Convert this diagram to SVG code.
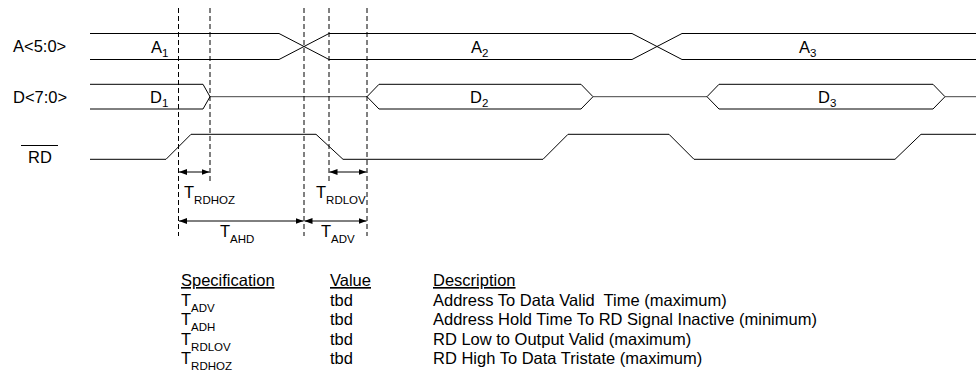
<svg xmlns="http://www.w3.org/2000/svg" width="976" height="375" viewBox="0 0 976 375">
<style>
text{font-family:"Liberation Sans",Arial,sans-serif;font-size:16.5px;fill:#000}
.sub{font-size:11.5px}
.wave{fill:none;stroke:#000;stroke-width:1}
.mid{fill:none;stroke:#444;stroke-width:1}
.dash{fill:none;stroke:#000;stroke-width:1;stroke-dasharray:5,3}
.dim{fill:none;stroke:#000;stroke-width:1;marker-start:url(#ah);marker-end:url(#ah)}
.u{text-decoration:underline}
</style>
<defs>
<marker id="ah" viewBox="0 0 8 6" refX="8" refY="3" markerWidth="8" markerHeight="6" markerUnits="userSpaceOnUse" orient="auto-start-reverse">
<path d="M0,0 L8,3 L0,6 Z" fill="#000"/>
</marker>
</defs>
<rect width="976" height="375" fill="#fff"/>

<g id="sig-A">
<text x="13" y="52">A&lt;5:0&gt;</text>
<path class="wave" d="M90,33.5 H279 L329,59.5 H632 L682,33.5 H976"/>
<path class="wave" d="M90,59.5 H279 L329,33.5 H632 L682,59.5 H976"/>
<text x="151" y="53">A<tspan class="sub" dy="4">1</tspan></text>
<text x="471" y="53">A<tspan class="sub" dy="4">2</tspan></text>
<text x="799" y="53">A<tspan class="sub" dy="4">3</tspan></text>
</g>

<g id="sig-D">
<text x="13" y="103">D&lt;7:0&gt;</text>
<path class="wave" d="M90,84.3 H203 L210,96.7 L203,109 H90"/>
<path class="mid" d="M210,96.7 H367"/>
<path class="wave" d="M367,96.7 L379,84.3 H581 L593,96.7 L581,109 H379 Z"/>
<path class="mid" d="M593,96.7 H707"/>
<path class="wave" d="M707,96.7 L719,84.3 H933 L945,96.7 L933,109 H719 Z"/>
<path class="mid" d="M945,96.7 H976"/>
<text x="150" y="103">D<tspan class="sub" dy="4">1</tspan></text>
<text x="470" y="103">D<tspan class="sub" dy="4">2</tspan></text>
<text x="818" y="103">D<tspan class="sub" dy="4">3</tspan></text>
</g>

<g id="sig-RD">
<text x="28" y="162.5">RD</text>
<line x1="21" y1="145.5" x2="58" y2="145.5" stroke="#000" stroke-width="1"/>
<path class="wave" d="M90,159.3 H166 L191,134.3 H316 L343,159.3 H543 L568,134.3 H669 L694,159.3 H895 L921,134.3 H976"/>
</g>

<g id="connectors">
<line class="dash" x1="178.5" y1="8" x2="178.5" y2="236"/>
<line class="dash" x1="210" y1="8" x2="210" y2="184"/>
<line class="dash" x1="304" y1="8" x2="304" y2="236"/>
<line class="dash" x1="329" y1="8" x2="329" y2="184"/>
<line class="dash" x1="367" y1="8" x2="367" y2="236"/>
<line class="dim" x1="179" y1="172" x2="209.5" y2="172"/>
<line class="dim" x1="329.5" y1="172" x2="366.5" y2="172"/>
<line class="dim" x1="179" y1="221" x2="303.5" y2="221"/>
<line class="dim" x1="304.5" y1="221" x2="366.5" y2="221"/>
</g>

<g id="timing-labels">
<text x="184" y="198">T<tspan class="sub" dy="6">RDHOZ</tspan></text>
<text x="316" y="198">T<tspan class="sub" dy="6">RDLOV</tspan></text>
<text x="220" y="237">T<tspan class="sub" dy="6">AHD</tspan></text>
<text x="321" y="237">T<tspan class="sub" dy="6">ADV</tspan></text>
</g>

<g id="spec-table" style="white-space:pre">
<text x="181" y="286" class="u">Specification</text>
<text x="330" y="286" class="u">Value</text>
<text x="433" y="286" class="u">Description</text>
<text x="181" y="305.5">T<tspan class="sub" dy="6">ADV</tspan></text>
<text x="181" y="325">T<tspan class="sub" dy="6">ADH</tspan></text>
<text x="181" y="344.5">T<tspan class="sub" dy="6">RDLOV</tspan></text>
<text x="181" y="364">T<tspan class="sub" dy="6">RDHOZ</tspan></text>
<text x="330" y="305.5">tbd</text>
<text x="330" y="325">tbd</text>
<text x="330" y="344.5">tbd</text>
<text x="330" y="364">tbd</text>
<text x="433" y="305.5" xml:space="preserve">Address To Data Valid  Time (maximum)</text>
<text x="433" y="325">Address Hold Time To RD Signal Inactive (minimum)</text>
<text x="433" y="344.5">RD Low to Output Valid (maximum)</text>
<text x="433" y="364">RD High To Data Tristate (maximum)</text>
</g>
</svg>
